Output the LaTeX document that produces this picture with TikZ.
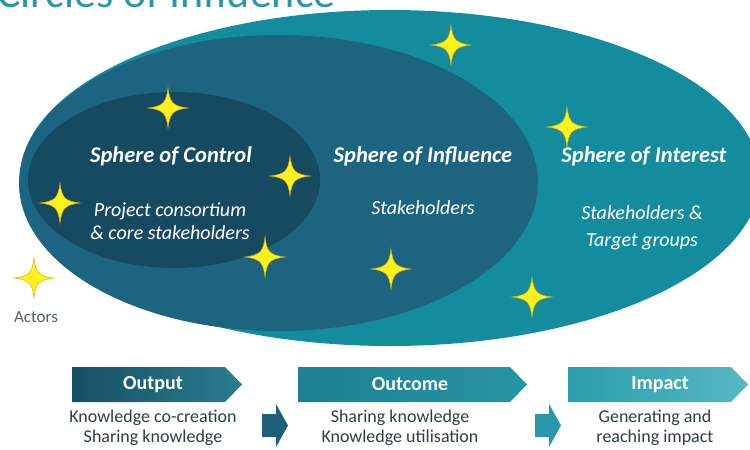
\documentclass[tikz,border=0pt]{standalone}
\usepackage{fontspec}
\setmainfont{Carlito}
\definecolor{outerc}{HTML}{138C9E}
\definecolor{midc}{HTML}{1C6480}
\definecolor{innerc}{HTML}{164A60}
\definecolor{titlec}{HTML}{2A97A8}
\definecolor{starc}{HTML}{FFF21A}
\definecolor{stared}{HTML}{E0B000}
\definecolor{txtc}{HTML}{2E3E48}
\definecolor{actc}{HTML}{4F6272}
\definecolor{o1}{HTML}{174F63}
\definecolor{o2}{HTML}{2A7D90}
\definecolor{c1}{HTML}{1B8193}
\definecolor{c2}{HTML}{2793A3}
\definecolor{i1}{HTML}{2A9DAE}
\definecolor{i2}{HTML}{56B9C3}
\definecolor{a1}{HTML}{1E6077}
\definecolor{a2}{HTML}{2A97A8}
\tikzset{
  hd/.style={text=white, font=\fontsize{22.5}{24}\selectfont\bfseries\itshape, inner sep=0pt},
  bd/.style={text=white, font=\fontsize{20}{23}\selectfont\itshape, align=center, inner sep=0pt},
  boxlabel/.style={text=white, font=\fontsize{20}{22}\selectfont\bfseries, inner sep=0pt},
  sub/.style={text=txtc, font=\fontsize{18}{20}\selectfont, align=center, inner sep=0pt},
  star4/.pic={\filldraw[fill=starc, draw=stared, line width=0.5pt]
     (20,0) .. controls (5,1.8) and (1.8,5) .. (0,20)
     .. controls (-1.8,5) and (-5,1.8) .. (-20,0)
     .. controls (-5,-1.8) and (-1.8,-5) .. (0,-20)
     .. controls (1.8,-5) and (5,-1.8) .. cycle;}
}
\begin{document}
\begin{tikzpicture}[x=1pt,y=-1pt]
\useasboundingbox (0,0) rectangle (750,450);
\fill[white] (0,0) rectangle (750,450);
\node[anchor=base west, text=titlec, font=\fontsize{44}{46}\selectfont, inner sep=0pt] (title) at (-3,7) {Circles of Influence};
% spheres
\fill[outerc] (390,178) ellipse [x radius=370pt, y radius=168pt];
\fill[midc] (278.5,183) ellipse [x radius=259.5pt, y radius=148pt];
\fill[innerc] (174,180) ellipse [x radius=146pt, y radius=88pt];
% texts
\node[hd] (soc) at (171,156) {Sphere of Control};
\node[bd] (socb) at (170,221) {Project consortium\\\& core stakeholders};
\node[hd] (soi) at (423,156) {Sphere of Influence};
\node[bd] (soib) at (423,208) {Stakeholders};
\node[hd] (sint) at (644,156) {Sphere of Interest};
\node[bd, font=\fontsize{20}{27}\selectfont\itshape] (sintb) at (642,228) {Stakeholders \&\\Target groups};
% stars
\foreach \p in {(451,45),(168,108),(290,176),(60,203),(265,257),(391,269),(567,127),(532,297),(34,278)}
  \pic at \p {star4};
\node[text=actc, font=\fontsize{17}{18}\selectfont, inner sep=0pt] (act) at (36,317) {Actors};
% bottom boxes
\shade[left color=o1, right color=o2] (72,367) -- (225,367) -- (242,384.5) -- (225,402) -- (72,402) -- cycle;
\shade[left color=c1, right color=c2] (298,367) -- (510,367) -- (527,384.5) -- (510,402) -- (298,402) -- cycle;
\shade[left color=i1, right color=i2] (568,367) -- (731,367) -- (748,384.5) -- (731,402) -- (568,402) -- cycle;
\node[boxlabel] (out) at (153,384.5) {Output};
\node[boxlabel] (outc) at (410,384.5) {Outcome};
\node[boxlabel] (imp) at (660,384.5) {Impact};
\node[sub] (outs) at (153,428) {Knowledge co-creation\\Sharing knowledge};
\node[sub] (outcs) at (400,428) {Sharing knowledge\\Knowledge utilisation};
\node[sub] (imps) at (655,428) {Generating and\\reaching impact};
% small arrows
\fill[a1] (262,414) -- (276,414) -- (276,404) -- (288,425.5) -- (276,447) -- (276,437) -- (262,437) -- cycle;
\fill[a2] (535,414) -- (549,414) -- (549,404) -- (561,425.5) -- (549,447) -- (549,437) -- (535,437) -- cycle;
\end{tikzpicture}
\end{document}
